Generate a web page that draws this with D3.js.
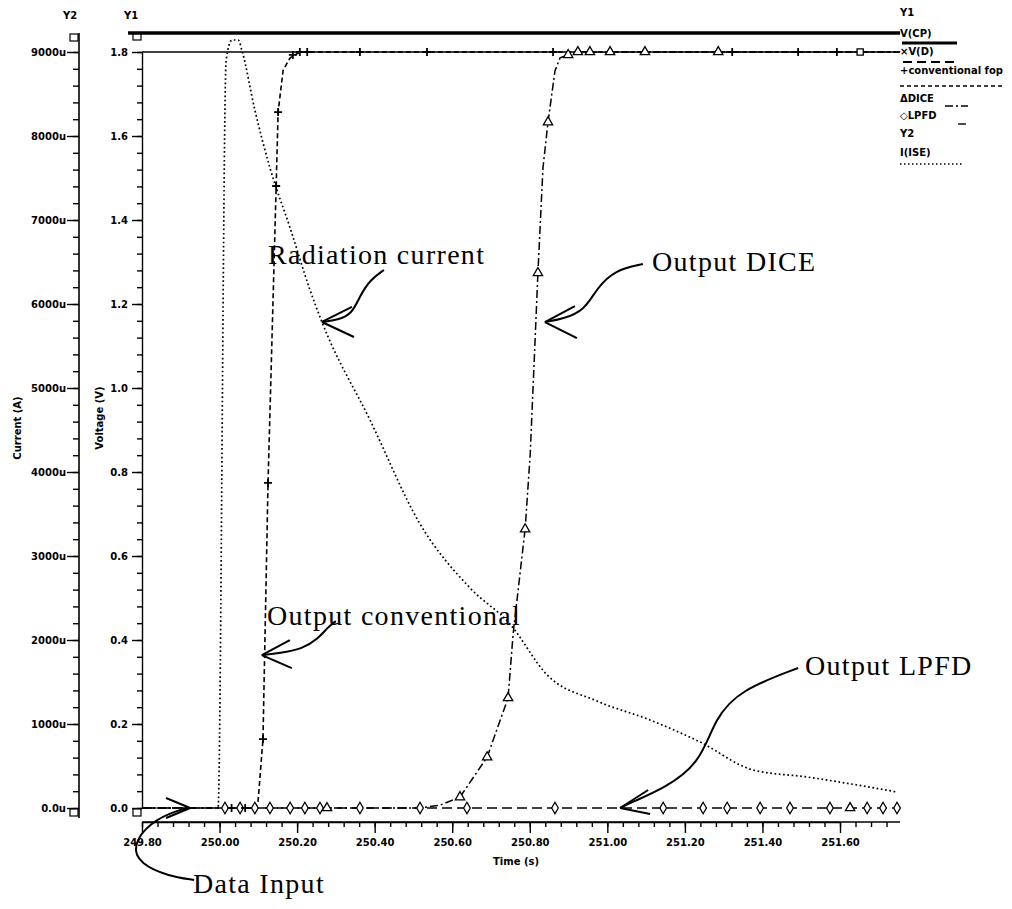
<!DOCTYPE html>
<html>
<head>
<meta charset="utf-8">
<script src="https://cdn.jsdelivr.net/npm/d3@7"></script>
<style>
body { margin: 0; background: #fff; }
text { fill: #000; }
.tk { font: bold 10px "DejaVu Sans", sans-serif; }
.note { font: 28px "Liberation Serif", serif; letter-spacing: 1.3px; }
</style>
</head>
<body>
<svg id="chart" width="1012" height="909"></svg>
<script>
// axis ticks
var timeTicks = [249.80, 250.00, 250.20, 250.40, 250.60, 250.80, 251.00, 251.20, 251.40, 251.60];
var voltTicks = [0, 0.2, 0.4, 0.6, 0.8, 1.0, 1.2, 1.4, 1.6, 1.8];
var currTicks = [0, 1000, 2000, 3000, 4000, 5000, 6000, 7000, 8000, 9000];
var timeEnd = 251.755;

// Y2: radiation current, uA
var radCurrent = [
  [249.80, 0], [249.996, 0], [250.017, 8905], [250.032, 9143], [250.048, 9143],
  [250.058, 9012], [250.091, 8310], [250.130, 7619], [250.182, 6905], [250.233, 6170],
  [250.264, 5786], [250.388, 4619], [250.517, 3381], [250.646, 2619], [250.749, 2190],
  [250.845, 1583], [250.973, 1274], [251.110, 1048], [251.239, 786], [251.376, 452],
  [251.515, 369], [251.644, 274], [251.747, 190]
];

// Y1: voltages, V
var clockLine = [[249.764, 1.845], [251.755, 1.845]];
var dataLine = [[249.80, 1.8], [251.755, 1.8]];
var convOut = [
  [249.80, 0], [250.092, 0], [250.099, 0.012], [250.112, 0.164], [250.125, 0.774],
  [250.146, 1.481], [250.151, 1.657], [250.164, 1.757], [250.182, 1.786],
  [250.207, 1.8], [251.755, 1.8]
];
var diceOut = [
  [249.80, 0], [250.517, 0], [250.569, 0.007], [250.620, 0.026], [250.690, 0.121],
  [250.744, 0.262], [250.757, 0.414], [250.788, 0.664], [250.801, 0.840],
  [250.814, 1.121], [250.821, 1.274], [250.834, 1.524], [250.847, 1.633],
  [250.865, 1.755], [250.878, 1.786], [250.899, 1.793], [250.924, 1.8], [251.755, 1.8]
];
var lpfdOut = [[249.80, 0], [251.755, 0]];

// marker samples
var convMarks = [
  [250.031, 0], [250.066, 0], [250.112, 0.164], [250.125, 0.774], [250.146, 1.481],
  [250.151, 1.657], [250.189, 1.793], [250.207, 1.8], [250.226, 1.8], [250.362, 1.8],
  [250.535, 1.8], [250.860, 1.8], [251.322, 1.8], [251.492, 1.8], [251.592, 1.8]
];
var diceMarks = [
  [250.277, 0], [250.620, 0.026], [250.690, 0.121], [250.744, 0.262], [250.788, 0.664],
  [250.821, 1.274], [250.847, 1.633], [250.899, 1.793], [250.924, 1.8], [250.955, 1.8],
  [251.007, 1.8], [251.097, 1.8], [251.286, 1.8], [251.626, 0]
];
var lpfdMarks = [
  [250.014, 0], [250.053, 0], [250.091, 0], [250.130, 0], [250.182, 0], [250.220, 0],
  [250.259, 0], [250.362, 0], [250.517, 0], [250.638, 0], [250.865, 0], [251.144, 0],
  [251.247, 0], [251.309, 0], [251.394, 0], [251.471, 0], [251.574, 0], [251.670, 0],
  [251.711, 0], [251.747, 0]
];
var dataMarks = [[251.652, 1.8]];

var svg = d3.select("#chart");

var x = d3.scaleLinear().domain([249.80, 251.60]).range([142, 840]);
var y1 = d3.scaleLinear().domain([0, 1.8]).range([808, 52]);
var y2 = d3.scaleLinear().domain([0, 9000]).range([808, 52]);

var axisX = 822, axisY1 = 142, axisY2 = 79;

// ---- axes ----
function styleAxis(g) {
  g.selectAll("path, line").attr("stroke", "#000").attr("stroke-width", 1.4);
  g.selectAll("text").attr("class", "tk").attr("fill", "#000");
}

svg.append("g").attr("transform", "translate(0," + axisX + ")")
  .call(d3.axisBottom(x).tickValues(d3.range(249.80, timeEnd, 0.04)).tickSize(5).tickSizeOuter(0).tickFormat(""))
  .call(styleAxis);
svg.append("g").attr("transform", "translate(0," + axisX + ")")
  .call(d3.axisBottom(x).tickValues(timeTicks).tickSize(11).tickPadding(6).tickSizeOuter(0).tickFormat(d3.format(".2f")))
  .call(styleAxis)
  .call(function(g) { g.select(".domain").remove(); });
svg.append("line").attr("x1", x(249.80)).attr("x2", x(timeEnd))
  .attr("y1", axisX).attr("y2", axisX).attr("stroke", "#000").attr("stroke-width", 1.6);

svg.append("g").attr("transform", "translate(" + axisY1 + ",0)")
  .call(d3.axisLeft(y1).tickValues(d3.range(0, 1.81, 0.04)).tickSize(5).tickSizeOuter(0).tickFormat(""))
  .call(styleAxis);
svg.append("g").attr("transform", "translate(" + axisY1 + ",0)")
  .call(d3.axisLeft(y1).tickValues(voltTicks).tickSize(10).tickPadding(4).tickSizeOuter(0).tickFormat(d3.format(".1f")))
  .call(styleAxis)
  .call(function(g) { g.select(".domain").remove(); });

svg.append("g").attr("transform", "translate(" + axisY2 + ",0)")
  .call(d3.axisLeft(y2).tickValues(d3.range(0, 9001, 200)).tickSize(6).tickSizeOuter(0).tickFormat(""))
  .call(styleAxis)
  .call(function(g) { g.select(".domain").remove(); });
svg.append("g").attr("transform", "translate(" + axisY2 + ",0)")
  .call(d3.axisLeft(y2).tickValues(currTicks).tickSize(12).tickPadding(1).tickSizeOuter(0)
    .tickFormat(function(d) { return d === 0 ? "0.0u" : d + "u"; }))
  .call(styleAxis)
  .call(function(g) { g.select(".domain").remove(); });
svg.append("line").attr("x1", axisY2).attr("x2", axisY2).attr("y1", 33).attr("y2", 818)
  .attr("stroke", "#000").attr("stroke-width", 1.6);

// axis handles (little boxes at the ends)
[[axisY2 - 5, 38], [axisY2 - 5, 813], [axisY1 - 5, 37], [axisY1 - 5, 813]].forEach(function(p) {
  svg.append("rect").attr("x", p[0] - 4).attr("y", p[1] - 4).attr("width", 8).attr("height", 7)
    .attr("fill", "#fff").attr("stroke", "#000").attr("stroke-width", 1.2);
});

// axis titles
svg.append("text").attr("class", "tk").attr("transform", "translate(21,428) rotate(-90)")
  .attr("text-anchor", "middle").text("Current (A)");
svg.append("text").attr("class", "tk").attr("transform", "translate(103,418) rotate(-90)")
  .attr("text-anchor", "middle").text("Voltage (V)");
svg.append("text").attr("class", "tk").attr("x", 493).attr("y", 865).text("Time (s)");
svg.append("text").attr("class", "tk").attr("x", 63).attr("y", 19).text("Y2");
svg.append("text").attr("class", "tk").attr("x", 124).attr("y", 19).text("Y1");

// ---- traces ----
var lineV = d3.line().x(function(d) { return x(d[0]); }).y(function(d) { return y1(d[1]); });
var lineI = d3.line().curve(d3.curveMonotoneX)
  .x(function(d) { return x(d[0]); }).y(function(d) { return y2(d[1]); });

function trace(data, gen, width, dash) {
  svg.append("path").attr("d", gen(data)).attr("fill", "none").attr("stroke", "#000")
    .attr("stroke-width", width).attr("stroke-dasharray", dash);
}

trace(lpfdOut, lineV, 1.5, "10,5");
trace(diceOut, lineV, 1.5, "8,3,2,3");
trace(convOut, lineV, 1.6, "5,3");
trace(dataLine, lineV, 1.3, null);
trace(clockLine, lineV, 3.5, null);
trace(radCurrent, lineI, 1.7, "1.7,2.6");

function marks(data, scale, kind) {
  var g = svg.append("g");
  data.forEach(function(d) {
    var px = x(d[0]), py = scale(d[1]);
    if (kind === "plus") {
      g.append("path").attr("d", "M" + (px - 4) + "," + py + "H" + (px + 4) + "M" + px + "," + (py - 4) + "V" + (py + 4))
        .attr("stroke", "#000").attr("stroke-width", 1.8);
    } else {
      var t = kind === "tri" ? d3.symbolTriangle : kind === "dia" ? d3.symbolDiamond : d3.symbolSquare;
      g.append("path").attr("d", d3.symbol(t, 38)()).attr("transform", "translate(" + px + "," + py + ")")
        .attr("fill", "#fff").attr("stroke", "#000").attr("stroke-width", 1.3);
    }
  });
}
marks(lpfdMarks, y1, "dia");
marks(diceMarks, y1, "tri");
marks(convMarks, y1, "plus");
marks(dataMarks, y1, "sq");

// ---- legend ----
var legend = [
  { label: "Y1", y: 16 },
  { label: "V(CP)", y: 37, sy: 43, x1: 902, x2: 957, w: 3, dash: null },
  { label: "\u00d7V(D)", y: 55, sy: 62, x1: 903, x2: 955, w: 2, dash: "9,5" },
  { label: "+conventional fop", y: 74, sy: 86, x1: 900, x2: 1005, w: 1.4, dash: "4,3" },
  { label: "\u0394DICE", y: 102, sy: 106, x1: 945, x2: 968, w: 1.4, dash: "8,3,2,3" },
  { label: "\u25c7LPFD", y: 119, sy: 124, x1: 958, x2: 966, w: 1.4, dash: null },
  { label: "Y2", y: 137 },
  { label: "I(ISE)", y: 156, sy: 164, x1: 900, x2: 962, w: 1.5, dash: "1.5,2.5" }
];
legend.forEach(function(l) {
  svg.append("text").attr("class", "tk").attr("x", 900).attr("y", l.y).text(l.label);
  if (l.sy) {
    svg.append("line").attr("x1", l.x1).attr("x2", l.x2).attr("y1", l.sy).attr("y2", l.sy)
      .attr("stroke", "#000").attr("stroke-width", l.w).attr("stroke-dasharray", l.dash);
  }
});

// ---- annotations: tip anchored on the data, curve offsets in pixels ----
var notes = [
  { text: "Radiation current", tx: 268, ty: 264, tip: [250.264, 5786], sc: y2,
    arms: [[30, -15], [32, 15]], curve: [[16, -2], [30, -8], [38, -26], [48, -42], [62, -52]] },
  { text: "Output DICE", tx: 652, ty: 271, tip: [250.839, 1.157], sc: y1,
    arms: [[30, -16], [32, 16]], curve: [[18, -3], [40, -12], [52, -34], [70, -52], [98, -58]] },
  { text: "Output conventional", tx: 267, ty: 625, tip: [250.109, 0.364], sc: y1,
    arms: [[28, -15], [30, 13]], curve: [[18, -2], [40, -6], [56, -16], [66, -28], [74, -34]] },
  { text: "Output LPFD", tx: 805, ty: 675, tip: [251.033, 0], sc: y1,
    arms: [[28, -18], [30, 6]], curve: [[12, -6], [45, -20], [80, -45], [95, -90], [120, -118], [178, -140]] },
  { text: "Data Input", tx: 193, ty: 893, tip: [249.924, 0], sc: y1,
    arms: [[-24, -10], [-24, 10]], curve: [[-12, 2], [-40, 14], [-58, 38], [-50, 56], [-22, 68], [4, 72]] }
];
var bend = d3.line().curve(d3.curveBasis);
notes.forEach(function(n) {
  var px = x(n.tip[0]), py = n.sc(n.tip[1]);
  var pts = [[px, py]].concat(n.curve.map(function(c) { return [px + c[0], py + c[1]]; }));
  svg.append("path").attr("d", bend(pts)).attr("fill", "none").attr("stroke", "#000").attr("stroke-width", 2);
  n.arms.forEach(function(a) {
    svg.append("line").attr("x1", px).attr("y1", py).attr("x2", px + a[0]).attr("y2", py + a[1])
      .attr("stroke", "#000").attr("stroke-width", 2);
  });
  svg.append("text").attr("class", "note").attr("x", n.tx).attr("y", n.ty).text(n.text);
});
</script>
</body>
</html>
